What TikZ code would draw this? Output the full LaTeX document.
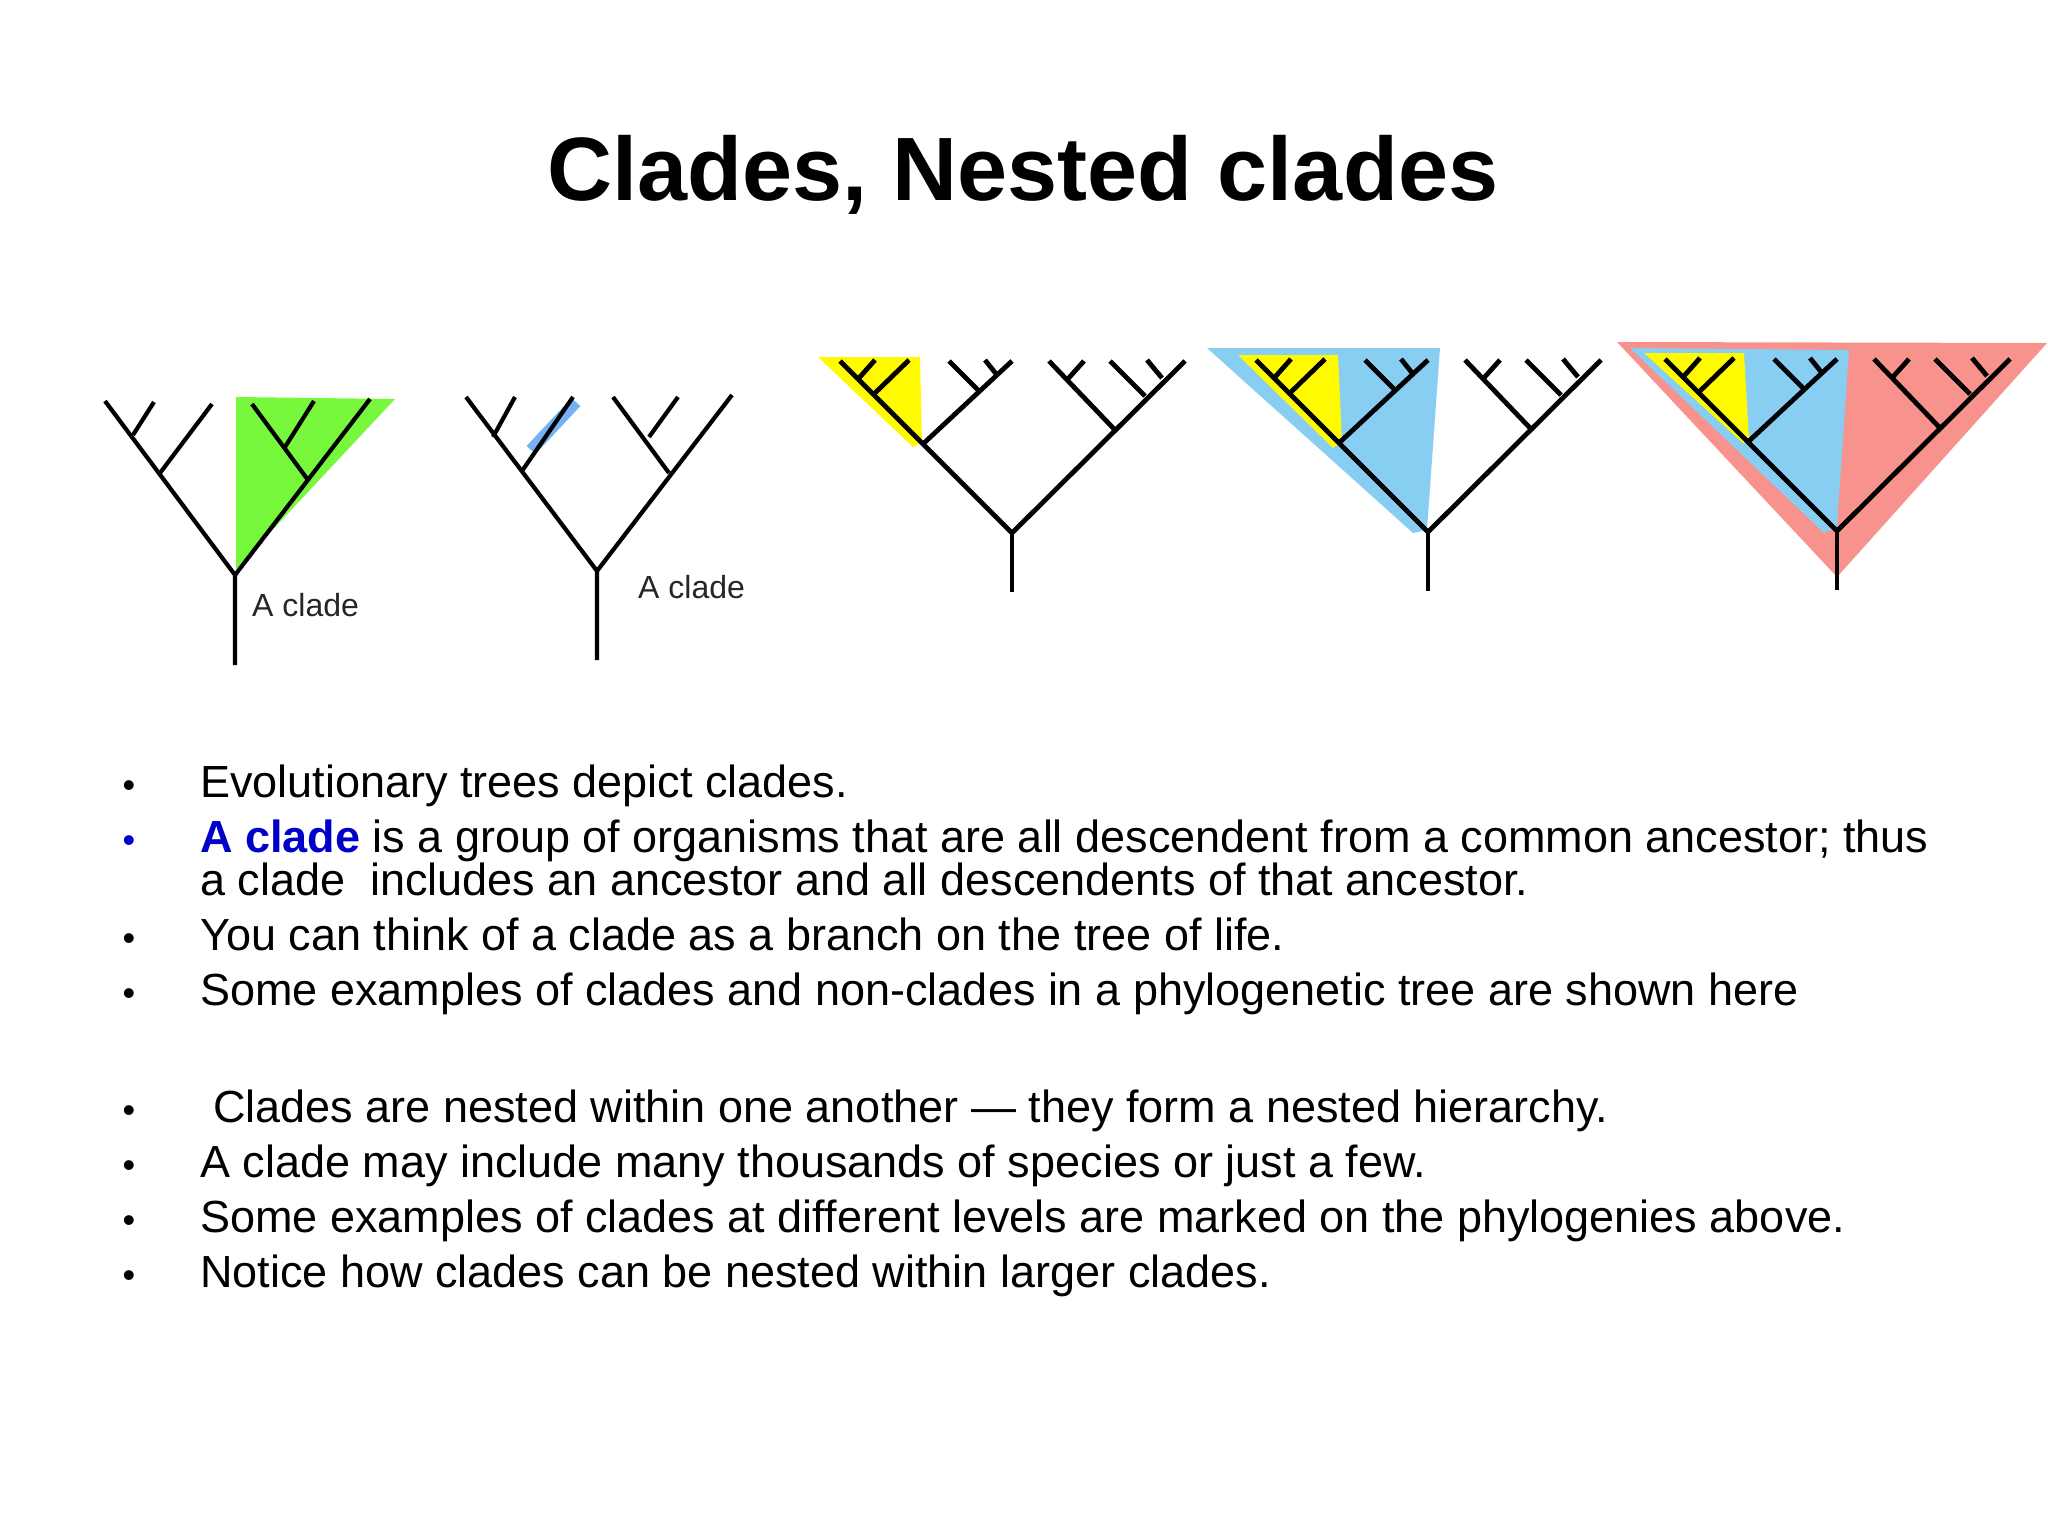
\documentclass[tikz,border=0pt]{standalone}
\usepackage{fontspec}
\setmainfont{Liberation Sans}
\definecolor{cgreen}{RGB}{120,248,60}
\definecolor{cyel}{RGB}{255,250,0}
\definecolor{cblue}{RGB}{135,206,242}
\definecolor{cpink}{RGB}{248,146,140}
\definecolor{chl}{RGB}{95,165,240}
\definecolor{cclade}{RGB}{0,0,200}
\newcommand{\bigtree}{%
  \draw[br] (0,-59) -- (0,0);
  \draw[br] (0,0) -- (-172,172);
  \draw[br] (0,0) -- (173,172);
  \draw[br] (-88,90) -- (0,172);
  \draw[br] (-153,155) -- (-137,173);
  \draw[br] (-137,140) -- (-103,173);
  \draw[br] (-33,142) -- (-63,172);
  \draw[br] (-15,158) -- (-27,173);
  \draw[br] (103,103) -- (37,172);
  \draw[br] (54,152) -- (72,172);
  \draw[br] (133,137) -- (98,172);
  \draw[br] (150,155) -- (135,173);
}
\begin{document}
\begin{tikzpicture}[x=1pt,y=-1pt,
  br/.style={line width=4.8pt,black},
  sb/.style={line width=4.2pt,black},
  bodytext/.style={anchor=base west,inner sep=0,font=\fontsize{45}{54}\selectfont},
  bul/.style={anchor=base,inner sep=0,font=\fontsize{36}{40}\selectfont},
  lab/.style={anchor=base west,inner sep=0,font=\fontsize{32}{36}\selectfont,text=black!85}]
\useasboundingbox[fill=white] (0,0) rectangle (2048,1536);
\node[anchor=base,inner sep=0,font=\fontsize{90}{100}\bfseries] (title) at (1023,200) {Clades, Nested clades};
% tree 1
\fill[cgreen] (236,397) -- (395,399) -- (236,569) -- cycle;
\draw[sb] (235,665) -- (235,575) -- (105,401);
\draw[sb] (235,575) -- (370,399);
\draw[sb] (160,473) -- (212,404);
\draw[sb] (133,435) -- (154,402);
\draw[sb] (308,480) -- (252,404);
\draw[sb] (285,447) -- (314,401);
\node[lab] (l1) at (252,616) {A clade};
% tree 2
\draw[line width=12pt,chl,opacity=0.85] (531,450) -- (576,402);
\draw[sb] (597,660) -- (597,571) -- (466,397);
\draw[sb] (597,571) -- (732,395);
\draw[sb] (522,471) -- (573,397);
\draw[sb] (493,437) -- (515,397);
\draw[sb] (669,473) -- (613,397);
\draw[sb] (649,437) -- (678,397);
\node[lab] (l2) at (638,598) {A clade};
% tree 3
\begin{scope}[shift={(1012,533)},yscale=-1]
\fill[cyel] (-194,176) -- (-92,176) -- (-90,91) -- (-99,86) -- cycle;
\bigtree
\end{scope}
% tree 4
\begin{scope}[shift={(1428,532)},yscale=-1]
\fill[cblue] (-221,184) -- (12,184) -- (-1,2) -- (-15,-1) -- cycle;
\fill[cyel] (-190,177) -- (-90,177) -- (-86,90) -- (-95,84) -- cycle;
\bigtree
\end{scope}
% tree 5
\begin{scope}[shift={(1837,531)},yscale=-1]
\fill[cpink] (-220,189) -- (210,188) -- (0,-46) -- cycle;
\fill[cblue] (-207,183) -- (12,181) -- (0,4) -- (-13,-2) -- cycle;
\fill[cyel] (-193,178) -- (-93,178) -- (-88,91) -- (-94,88) -- cycle;
\bigtree
\end{scope}
% bullets
\foreach \y/\c in {797/black,852/cclade,950/black,1005/black,1122/black,1177/black,1232/black,1287/black}
  \node[bul,text=\c] at (129,\y) {•};
\node[bodytext] (t1) at (200,797) {Evolutionary trees depict clades.};
\node[bodytext] (t2) at (200,852) {\textcolor{cclade}{\bfseries A clade} is a group of organisms that are all descendent from a common ancestor; thus};
\node[bodytext] (t2b) at (200,895) {a clade\ \ includes an ancestor and all descendents of that ancestor.};
\node[bodytext] (t3) at (200,950) {You can think of a clade as a branch on the tree of life.};
\node[bodytext] (t4) at (200,1005) {Some examples of clades and non-clades in a phylogenetic tree are shown here};
\node[bodytext] (t5) at (213,1122) {Clades are nested within one another — they form a nested hierarchy.};
\node[bodytext] (t6) at (200,1177) {A clade may include many thousands of species or just a few.};
\node[bodytext] (t7) at (200,1232) {Some examples of clades at different levels are marked on the phylogenies above.};
\node[bodytext] (t8) at (200,1287) {Notice how clades can be nested within larger clades.};
\end{tikzpicture}
\end{document}
